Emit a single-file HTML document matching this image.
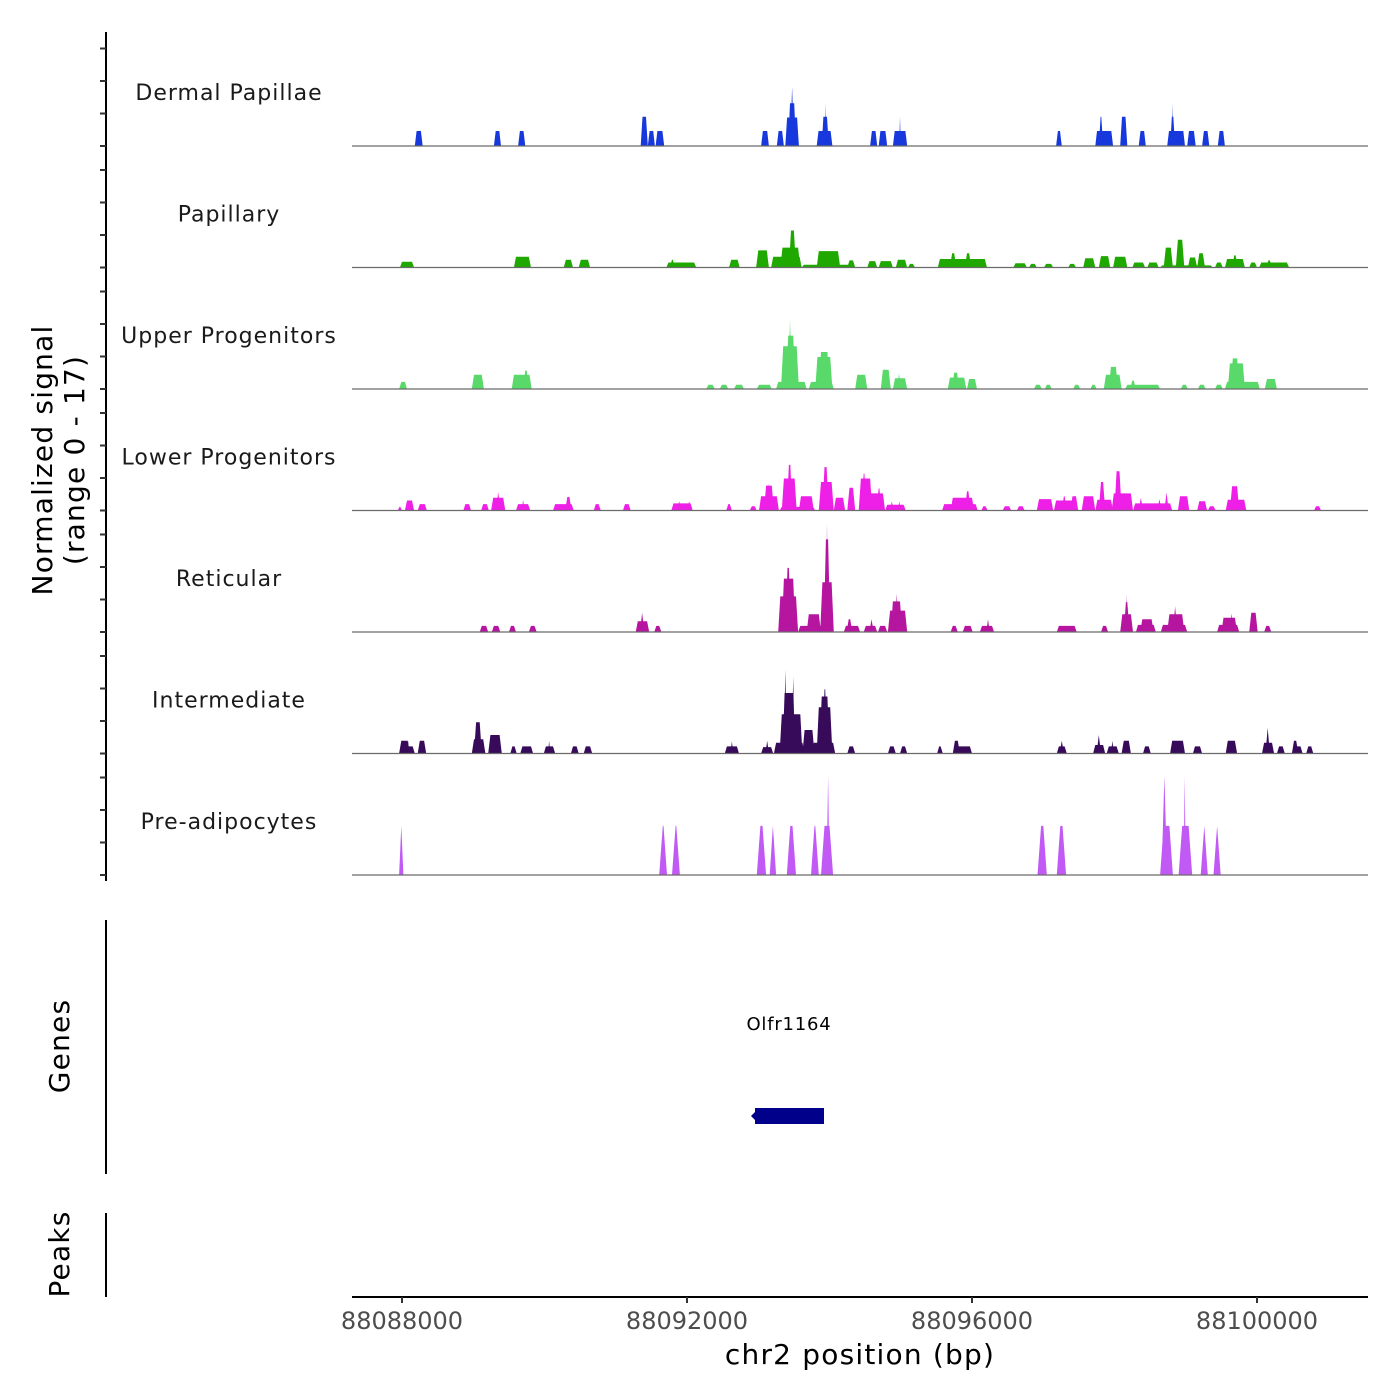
<!DOCTYPE html>
<html><head><meta charset="utf-8"><style>
html,body{margin:0;padding:0;background:#fff;}
svg{display:block;font-family:"DejaVu Sans","Liberation Sans",sans-serif;}
</style></head><body>
<svg id="chart" width="1400" height="1400" viewBox="0 0 1400 1400" xmlns="http://www.w3.org/2000/svg">
<g id="tracks"></g>
<g id="yaxis">
<line x1="106" y1="32" x2="106" y2="881" stroke="#000" stroke-width="2"/>
</g>
<text transform="translate(52,460) rotate(-90)" text-anchor="middle" font-size="28" letter-spacing="1.2" fill="#000">Normalized signal</text>
<text transform="translate(84,460) rotate(-90)" text-anchor="middle" font-size="28" letter-spacing="1.2" fill="#000">(range 0 - 17)</text>
<line x1="106" y1="920" x2="106" y2="1174" stroke="#000" stroke-width="2"/>
<text transform="translate(69,1046) rotate(-90)" text-anchor="middle" font-size="28" letter-spacing="1.2" fill="#000">Genes</text>
<text x="789" y="1030" text-anchor="middle" font-size="18" letter-spacing="0.8" fill="#000">Olfr1164</text>
<rect x="755" y="1108" width="69" height="16" fill="#00008b"/>
<polygon points="751,1116 756,1111 756,1121" fill="#00008b"/>
<line x1="106" y1="1213" x2="106" y2="1297" stroke="#000" stroke-width="2"/>
<text transform="translate(69,1254) rotate(-90)" text-anchor="middle" font-size="28" letter-spacing="1.2" fill="#000">Peaks</text>
<g id="xaxis">
<line x1="352" y1="1297" x2="1368" y2="1297" stroke="#000" stroke-width="2"/>
</g>
<text x="860" y="1364" text-anchor="middle" font-size="28" letter-spacing="1.2" fill="#000">chr2 position (bp)</text>
</svg>
<script>
const trackNames = ["Dermal Papillae","Papillary","Upper Progenitors","Lower Progenitors","Reticular","Intermediate","Pre-adipocytes"];
const trackColors = ["#1638dc","#1fa800","#58d96a","#ee1fe6","#b5159f","#380a5a","#c15af5"];
const xTickValues = [88088000, 88092000, 88096000, 88100000];
const yTickValues = [0, 5, 10, 15];
// peaks: [start kb from 88088000, end kb, signal]
const dermalPapillae = [[0.18,0.29,2.1],[1.29,1.39,2.1],[1.63,1.73,2.1],[3.35,3.45,4.1],[3.45,3.55,2.1],[3.56,3.68,2.1],[5.04,5.15,2.1],[5.26,5.36,2.1],[5.38,5.57,4],[5.42,5.53,6],[5.45,5.50,8.3],[5.82,6.04,2.1],[5.89,5.99,4.1],[5.93,5.95,6],[6.57,6.67,2.1],[6.69,6.81,2.1],[6.89,7.09,2.1],[6.98,7.00,4.1],[9.18,9.26,2.1],[9.73,9.98,2.1],[9.78,9.84,4.1],[10.08,10.18,4.1],[10.34,10.44,2.1],[10.74,10.99,2.1],[10.78,10.85,4.1],[10.80,10.82,6],[11.02,11.14,2.1],[11.23,11.33,2.1],[11.45,11.55,2.1]];
const papillary = [[-0.03,0.17,0.8],[1.57,1.81,1.5],[2.27,2.40,1.1],[2.48,2.64,1.1],[3.71,4.13,0.7],[3.76,3.83,1.1],[4.59,4.74,1.1],[4.97,5.15,2.4],[5.18,5.61,1.5],[5.31,5.59,2.8],[5.43,5.53,5.2],[5.61,6.36,0.4],[5.82,6.15,2.3],[6.25,6.36,1],[6.53,6.67,0.9],[6.69,6.89,0.9],[6.93,7.09,1.1],[7.10,7.20,0.5],[7.52,8.21,1.2],[7.69,7.78,2],[7.90,7.99,2],[8.58,8.77,0.6],[8.80,8.91,0.5],[9.01,9.14,0.5],[9.35,9.46,0.5],[9.56,9.73,1.3],[9.78,9.94,1.6],[9.98,10.18,1.5],[10.25,10.43,0.7],[10.46,10.62,0.7],[10.64,11.38,0.3],[10.69,10.82,2.8],[10.86,10.98,3.9],[11.03,11.16,1.4],[11.16,11.27,2],[11.41,11.52,0.7],[11.55,11.83,1.2],[11.65,11.73,1.7],[11.89,12.00,0.7],[12.03,12.45,0.7],[12.13,12.21,1]];
const upperProgenitors = [[-0.04,0.07,1],[0.98,1.15,2],[1.54,1.82,2],[1.70,1.78,2.6],[4.27,4.39,0.6],[4.46,4.58,0.6],[4.66,4.80,0.6],[4.98,5.19,0.6],[5.25,5.68,1],[5.32,5.57,6],[5.39,5.52,7.5],[5.42,5.47,9.7],[5.71,6.06,1],[5.80,6.04,4.5],[5.85,6.00,5.2],[6.36,6.53,2],[6.72,6.86,2.7],[6.89,7.09,1.5],[6.95,7.00,2.2],[7.66,7.92,1.6],[7.72,7.82,2.3],[7.93,8.07,1.4],[8.87,8.98,0.6],[9.02,9.12,0.6],[9.42,9.52,0.6],[9.66,9.75,0.6],[9.85,10.10,2],[9.92,10.05,3.1],[10.15,10.64,0.6],[10.22,10.30,1.2],[10.93,11.03,0.6],[11.17,11.28,0.6],[11.41,11.52,0.6],[11.55,12.04,1],[11.59,11.83,3.6],[11.63,11.75,4.3],[12.11,12.28,1.4]];
const lowerProgenitors = [[-0.06,0.0,0.6],[0.04,0.17,1.4],[0.22,0.35,0.9],[0.86,0.97,0.9],[1.11,1.22,0.9],[1.25,1.45,1.8],[1.32,1.38,2.6],[1.60,1.80,0.9],[1.68,1.72,1.5],[2.12,2.41,0.9],[2.29,2.38,1.9],[2.69,2.79,0.9],[3.10,3.21,0.9],[3.78,4.08,1],[3.86,3.92,1.3],[4.00,4.06,1.3],[4.55,4.63,0.9],[4.88,4.98,0.6],[5.01,5.29,2],[5.08,5.22,3.5],[5.13,5.17,3.8],[5.30,5.80,0.5],[5.33,5.54,4.5],[5.40,5.48,6.4],[5.57,5.78,2],[5.85,6.06,4],[5.90,5.99,6.1],[6.06,6.22,1.8],[6.25,6.36,3.2],[6.41,6.60,4.5],[6.45,6.52,5.2],[6.43,6.78,2.4],[6.66,6.73,3.1],[6.78,7.07,0.8],[6.85,6.90,1.3],[6.96,7.00,1.3],[7.58,8.08,0.9],[7.70,8.03,1.8],[7.90,7.98,2.7],[8.13,8.22,0.6],[8.43,8.55,0.6],[8.63,8.74,0.6],[8.91,9.14,1.6],[9.15,9.49,1.4],[9.26,9.33,2],[9.38,9.49,2],[9.54,9.73,2],[9.73,9.98,1.5],[9.78,9.87,4],[9.96,10.26,2.4],[10.00,10.10,5.5],[10.26,10.81,1],[10.34,10.40,1.8],[10.60,10.66,1.6],[10.70,10.76,2.5],[10.89,11.05,2],[11.16,11.30,1.3],[11.31,11.42,0.6],[11.56,11.85,1.5],[11.62,11.75,3.4],[12.80,12.90,0.6]];
const reticular = [[1.09,1.21,0.85],[1.26,1.38,0.85],[1.50,1.60,0.85],[1.78,1.89,0.85],[3.28,3.47,1.5],[3.34,3.40,2.7],[3.54,3.64,0.85],[5.28,5.56,5],[5.33,5.52,7.5],[5.38,5.46,9],[5.56,5.90,0.85],[5.68,5.88,2.5],[5.87,6.06,7],[5.92,6.01,13],[5.95,5.98,15.3],[6.20,6.43,0.85],[6.24,6.32,1.8],[6.48,6.67,0.85],[6.56,6.62,1.8],[6.68,6.81,0.85],[6.82,7.09,3],[6.86,7.02,4.3],[6.92,6.97,5.4],[7.70,7.80,0.85],[7.87,8.01,0.85],[8.11,8.31,0.85],[8.20,8.25,1.8],[9.19,9.47,0.85],[9.81,9.91,0.85],[10.08,10.26,2.5],[10.13,10.21,4.2],[10.16,10.18,5.4],[10.30,10.58,1],[10.36,10.55,1.8],[10.65,11.02,1],[10.74,10.98,2.5],[10.82,10.88,3.6],[11.44,11.75,1],[11.50,11.72,2],[11.62,11.67,2.6],[11.89,12.01,2.7],[12.10,12.20,0.85]];
const intermediate = [[-0.04,0.18,1],[-0.04,0.11,1.8],[0.07,0.10,1.8],[0.22,0.34,1.8],[0.98,1.17,2],[1.01,1.12,4.4],[1.21,1.40,2.6],[1.52,1.61,1],[1.66,1.84,1],[1.99,2.15,1],[2.05,2.08,1.8],[2.37,2.48,1],[2.55,2.67,1],[4.53,4.73,1],[4.61,4.65,1.7],[5.04,5.21,0.9],[5.10,5.15,1.8],[5.22,5.65,1.5],[5.30,5.62,5.5],[5.34,5.52,8.5],[5.36,5.40,11.8],[5.47,5.51,10.8],[5.62,5.79,3.3],[5.75,6.08,1.5],[5.82,6.04,6.5],[5.86,6.00,8],[5.90,5.97,9],[6.25,6.36,1],[6.82,6.93,1],[6.99,7.09,1],[7.51,7.59,1],[7.73,8.00,1],[7.73,7.83,1.8],[9.19,9.33,1],[9.23,9.29,1.8],[9.70,9.87,1.2],[9.75,9.81,2.6],[9.89,10.06,1],[9.95,9.99,1.8],[10.10,10.23,1.8],[10.40,10.51,1],[10.78,10.99,1.8],[11.10,11.23,1],[11.56,11.72,1.8],[12.07,12.24,1.5],[12.12,12.18,3.6],[12.28,12.39,1],[12.49,12.64,1],[12.49,12.58,1.8],[12.69,12.79,1]];
const preAdipocytes = [[-0.04,0.02,6.9],[3.61,3.72,6.9],[3.79,3.90,6.9],[4.98,5.11,6.9],[5.16,5.25,6.9],[5.40,5.53,6.9],[5.74,5.85,6.9],[5.88,6.05,6.9],[5.96,6.00,13.9],[8.92,9.05,6.9],[9.19,9.32,6.9],[10.64,10.82,6.9],[10.66,10.74,13.9],[10.90,11.09,6.9],[10.97,11.00,13.9],[11.21,11.31,6.9],[11.39,11.49,6.9]];

const trackData = [dermalPapillae, papillary, upperProgenitors, lowerProgenitors, reticular, intermediate, preAdipocytes];
const NS = "http://www.w3.org/2000/svg";
const X0 = 352, X1 = 1368;
function xScale(kb){ return 402 + kb*71.25; }
function xScaleBp(bp){ return 402 + (bp-88088000)*0.07125; }
function baseY(i){ return 146 + i*121.5; }
function yScale(i, v){ return baseY(i) - v*7.12; }
function tickY(i, v){ return baseY(i) - v*6.5; }
const ramps = [0.025,0.03,0.03,0.03,0.03,0.03,0.05];

const tracks = document.getElementById('tracks');
trackNames.forEach((name, i) => {
  const g = document.createElementNS(NS,'g');
  
  
  tracks.appendChild(g);
  const lab = document.createElementNS(NS,'text');
  
  
  lab.setAttribute('x', 229); lab.setAttribute('y', baseY(i) - 46);
  lab.setAttribute('text-anchor','middle'); lab.setAttribute('font-size','22');
  lab.setAttribute('letter-spacing','1');
  lab.setAttribute('fill','#1a1a1a');
  lab.textContent = name;
  g.appendChild(lab);
  trackData[i].forEach(p => {
    const s = p[0], e = p[1], h = p[2];
    const r = Math.min(ramps[i], (e-s)/2);
    const pts = [[s,0],[s+r,h],[e-r,h],[e,0]].map(q => {
      const x = Math.max(X0, Math.min(X1, xScale(q[0])));
      return x.toFixed(1)+','+yScale(i,q[1]).toFixed(1);
    }).join(' ');
    const poly = document.createElementNS(NS,'polygon');
    
    
    poly.setAttribute('points', pts);
    poly.setAttribute('fill', trackColors[i]);
    g.appendChild(poly);
  });
  const bl = document.createElementNS(NS,'line');
  
  
  bl.setAttribute('x1', X0); bl.setAttribute('x2', X1);
  bl.setAttribute('y1', baseY(i)); bl.setAttribute('y2', baseY(i));
  bl.setAttribute('stroke', '#6b6b6b'); bl.setAttribute('stroke-width', '1.2');
  g.appendChild(bl);
  yTickValues.forEach(v => {
    const t = document.createElementNS(NS,'line');
    
    
    t.setAttribute('x1', 100); t.setAttribute('x2', 106);
    t.setAttribute('y1', tickY(i,v)); t.setAttribute('y2', tickY(i,v));
    t.setAttribute('stroke', '#333'); t.setAttribute('stroke-width', '2');
    document.getElementById('yaxis').appendChild(t);
  });
});
const xa = document.getElementById('xaxis');
xTickValues.forEach(v => {
  const x = xScaleBp(v);
  const t = document.createElementNS(NS,'line');
  
  
  t.setAttribute('x1', x); t.setAttribute('x2', x);
  t.setAttribute('y1', 1297); t.setAttribute('y2', 1303);
  t.setAttribute('stroke', '#333'); t.setAttribute('stroke-width', '2');
  xa.appendChild(t);
  const l = document.createElementNS(NS,'text');
  
  
  l.setAttribute('x', x); l.setAttribute('y', 1329);
  l.setAttribute('text-anchor','middle'); l.setAttribute('font-size','24');
  l.setAttribute('fill','#4d4d4d');
  l.textContent = String(v);
  xa.appendChild(l);
});
</script>
</body></html>
